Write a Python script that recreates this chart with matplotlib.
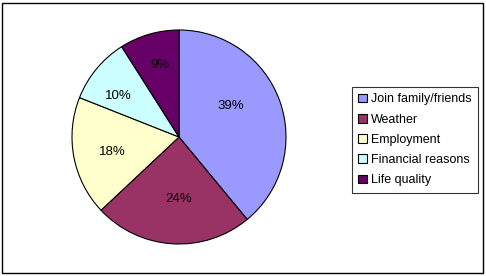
import numpy as np
import matplotlib
matplotlib.use("Agg")
import matplotlib.pyplot as plt
from matplotlib.patches import Rectangle, Patch

plt.rcParams.update({"font.family": ["Liberation Sans", "DejaVu Sans"], "font.size": 9})

labels = ["Join family/friends", "Weather", "Employment", "Financial reasons", "Life quality"]
shares = [39, 24, 18, 10, 9]
colors = ["#9999FF", "#993366", "#FFFFCC", "#CCFFFF", "#660066"]

W, H = 486, 276
fig = plt.figure(figsize=(W / 100, H / 100), dpi=100)
fig.patches.append(Rectangle((2 / W, 3 / H), 481 / W, 270 / H, transform=fig.transFigure,
                             fill=False, ec="black", lw=1.0))

cx, cy, r = 179, H - 137, 107
ax = fig.add_axes([(cx - r) / W, (cy - r) / H, 2 * r / W, 2 * r / H])
wedges, texts = ax.pie(shares, colors=colors, startangle=90, counterclock=False,
                       labels=[f"{s}%" for s in shares], labeldistance=0.6,
                       wedgeprops=dict(edgecolor="black", linewidth=0.8))
# excel-style label spots: radius fraction and angle nudge per slice
lab_r = [0.58, 0.56, 0.63, 0.70, 0.71]
lab_da = [13, 3, 0, 4, -2]
for w, t, rr, da in zip(wedges, texts, lab_r, lab_da):
    a = np.deg2rad((w.theta1 + w.theta2) / 2 + da)
    t.set_position((rr * np.cos(a), rr * np.sin(a) - 0.02))
    t.set_ha("center"); t.set_va("center"); t.set_fontsize(9.5)
ax.set_xlim(-1, 1); ax.set_ylim(-1, 1); ax.set_aspect("equal")

handles = [Patch(fc=c, ec="black", lw=0.8) for c in colors]
leg = fig.legend(handles, labels, loc="upper left", bbox_to_anchor=(352 / W, 1 - 87 / H),
                 frameon=True, fancybox=False, fontsize=9.0, handlelength=0.7, handleheight=0.7,
                 handletextpad=0.3, labelspacing=0.66, borderpad=0.5, borderaxespad=0)
leg.get_frame().set_edgecolor("black"); leg.get_frame().set_linewidth(0.8)

fig.savefig("out.png", dpi=100)
